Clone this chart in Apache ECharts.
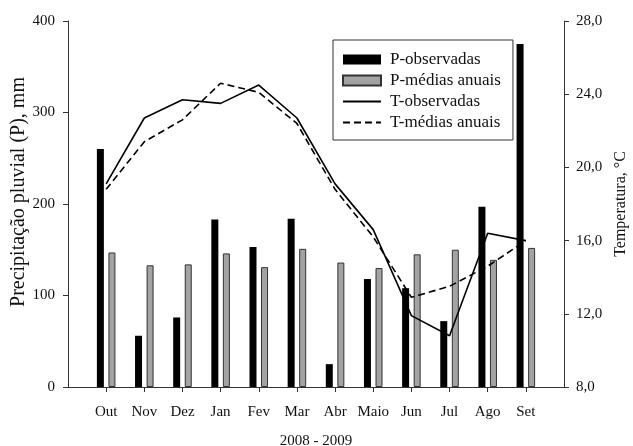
<!DOCTYPE html>
<html>
<head>
<meta charset="utf-8">
<script src="https://cdn.jsdelivr.net/npm/echarts@6/dist/echarts.min.js"></script>
<style>
  html, body { margin: 0; padding: 0; background: #fff; }
  #chart { width: 633px; height: 446px; }
</style>
</head>
<body>
<div id="chart"></div>
<script>
var months = ['Out', 'Nov', 'Dez', 'Jan', 'Fev', 'Mar', 'Abr', 'Maio', 'Jun', 'Jul', 'Ago', 'Set']
var pObservadas = [260, 56, 76, 183, 153, 184, 25, 118, 108, 72, 197, 375]
var pMedias = [147, 133, 134, 146, 131, 151, 136, 130, 145, 150, 139, 152]
var tObservadas = [19.1, 22.7, 23.7, 23.5, 24.5, 22.7, 19.1, 16.6, 11.9, 10.8, 16.4, 16.0]
var tMedias = [18.8, 21.4, 22.6, 24.6, 24.1, 22.4, 18.8, 16.2, 12.9, 13.5, 14.6, 16.0]
var pTicks = [0, 100, 200, 300, 400]
var tTicks = [8, 12, 16, 20, 24, 28]

// empty slot at each end so the axis runs past the first and last month
function pad(arr) {
  return [null].concat(arr).concat([null])
}

var font = 'Liberation Serif'
var ink = '#111'
// line legend items: hide the marker dot, keep only the stroke
var noDot = { color: 'transparent', borderColor: 'transparent', borderWidth: 0 }

var chart = echarts.init(document.getElementById('chart'))
var option = {
  animation: false,
  textStyle: { fontFamily: font, color: ink },
  grid: { left: 68, right: 69, top: 21, bottom: 59, outerBoundsMode: 'none' },
  legend: {
    orient: 'vertical',
    left: 333,
    top: 40,
    padding: [11, 12, 9, 9],
    itemWidth: 38,
    itemHeight: 10,
    itemGap: 4,
    borderColor: '#333',
    borderWidth: 1,
    textStyle: { fontFamily: font, fontSize: 17, color: ink, padding: [0, 0, 0, 4] },
    data: [
      { name: 'P-observadas', icon: 'rect' },
      { name: 'P-médias anuais', icon: 'rect' },
      { name: 'T-observadas', itemStyle: noDot },
      { name: 'T-médias anuais', itemStyle: noDot }
    ]
  },
  xAxis: {
    type: 'category',
    boundaryGap: false,
    data: [''].concat(months).concat(['']),
    name: '2008 - 2009',
    nameLocation: 'middle',
    nameGap: 47,
    nameTextStyle: { fontFamily: font, fontSize: 15, color: ink },
    axisLine: { lineStyle: { color: '#333', width: 1 } },
    axisTick: {
      length: 5,
      interval: function (index) {
        return index > 0 && index <= months.length
      },
      lineStyle: { color: '#333' }
    },
    axisLabel: { interval: 0, margin: 18, fontSize: 15, color: ink, fontFamily: font },
    splitLine: { show: false }
  },
  yAxis: [
    {
      type: 'value',
      min: pTicks[0],
      max: pTicks[pTicks.length - 1],
      interval: 100,
      name: 'Precipitação pluvial (P), mm',
      nameLocation: 'middle',
      nameRotate: 90,
      nameGap: 39,
      nameMoveOverlap: false,
      // title sits a little above the axis centre in the original
      nameTextStyle: { fontFamily: font, fontSize: 20, color: ink, padding: [0, 0, 0, 24] },
      axisLine: { show: true, lineStyle: { color: '#333' } },
      axisTick: { show: true, length: 5, lineStyle: { color: '#333' } },
      axisLabel: { margin: 13, fontSize: 15, color: ink, fontFamily: font },
      splitLine: { show: false }
    },
    {
      type: 'value',
      min: tTicks[0],
      max: tTicks[tTicks.length - 1],
      interval: 4,
      position: 'right',
      name: 'Temperatura, °C',
      nameLocation: 'middle',
      nameRotate: 90,
      nameGap: 48,
      nameTextStyle: { fontFamily: font, fontSize: 16, color: ink },
      axisLine: { show: true, lineStyle: { color: '#333' } },
      axisTick: { show: true, length: 5, lineStyle: { color: '#333' } },
      axisLabel: {
        margin: 12,
        fontSize: 15,
        color: ink,
        fontFamily: font,
        formatter: function (v) {
          return v.toFixed(1).replace('.', ',')
        }
      },
      splitLine: { show: false }
    }
  ],
  series: [
    {
      name: 'P-observadas',
      type: 'bar',
      data: pad(pObservadas),
      barWidth: 7,
      barGap: '65%',
      itemStyle: { color: '#000' }
    },
    {
      name: 'P-médias anuais',
      type: 'bar',
      data: pad(pMedias),
      barWidth: 7,
      itemStyle: { color: '#a3a3a3', borderColor: '#333', borderWidth: 1 }
    },
    {
      name: 'T-observadas',
      type: 'line',
      yAxisIndex: 1,
      data: pad(tObservadas),
      symbol: 'none',
      lineStyle: { color: '#000', width: 1.6 },
      itemStyle: { color: '#000' },
      z: 5
    },
    {
      name: 'T-médias anuais',
      type: 'line',
      yAxisIndex: 1,
      data: pad(tMedias),
      symbol: 'none',
      lineStyle: { color: '#000', width: 1.6, type: [7, 4] },
      itemStyle: { color: '#000' },
      z: 5
    }
  ]
}
chart.setOption(option, true)
</script>
</body>
</html>
